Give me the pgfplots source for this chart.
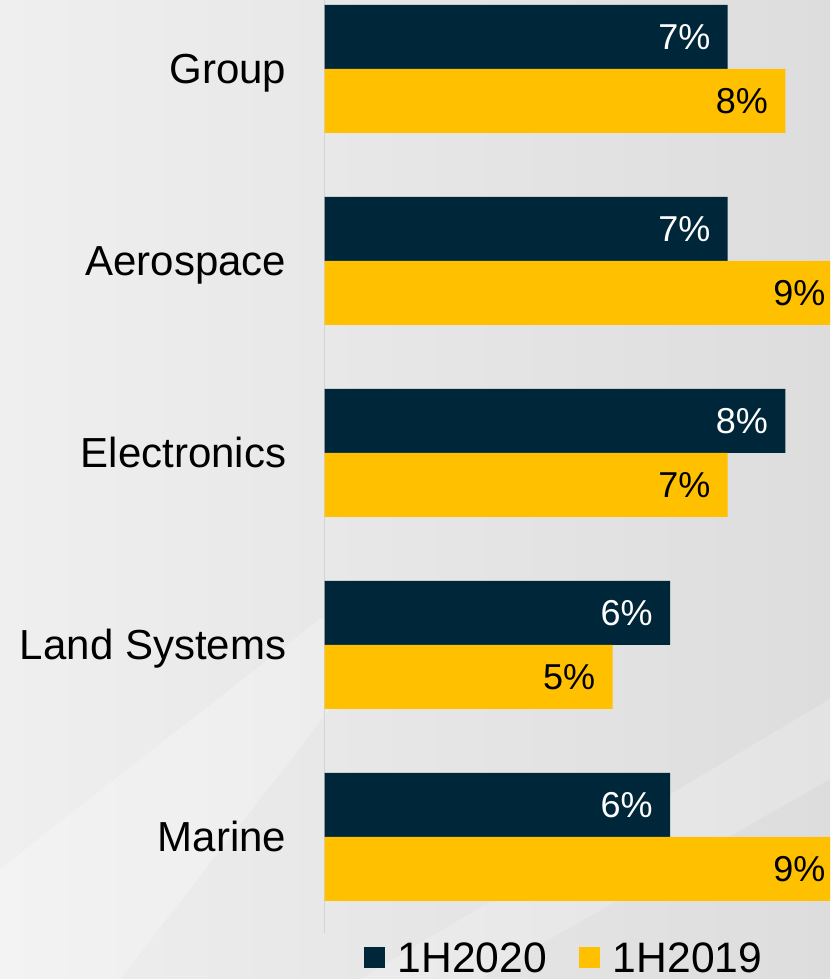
\documentclass[border=0pt]{standalone}
\usepackage{pgfplots}
\pgfplotsset{compat=1.18}
\usepackage{fontspec}
\setmainfont{Liberation Sans}
\definecolor{navy}{HTML}{002639}
\definecolor{gold}{HTML}{FFC000}
\definecolor{axisgray}{HTML}{D4D4D4}
\definecolor{bgleft}{HTML}{EFEFEF}
\definecolor{bgright}{HTML}{DDDDDD}
\begin{document}
\begin{tikzpicture}
\path[use as bounding box] (0,0) rectangle (415pt,489.5pt);
\clip (0,0) rectangle (415pt,489.5pt);
\shade[left color=bgleft, right color=bgright] (0,0) rectangle (415pt,489.5pt);
\fill[white, opacity=0.25] (0,0) -- (0,55pt) -- (160pt,180pt) -- (200pt,180pt) -- (60pt,0) -- cycle;
\fill[white, opacity=0.2] (180pt,0) -- (415pt,140pt) -- (415pt,100pt) -- (240pt,0) -- cycle;
\begin{axis}[
  at={(162.25pt,23pt)}, anchor=south west,
  x=28.8pt, y=96pt,
  xmin=0, xmax=10, ymin=-0.5, ymax=4.4,
  xbar, bar width=32pt,
  axis y line*=left, axis x line=none,
  xtick=\empty,
  y axis line style={draw=axisgray, line width=0.75pt},
  ytick={0,1,2,3,4},
  yticklabels={Marine,Land Systems,Electronics,Aerospace,Group},
  major tick length=0pt,
  yticklabel style={font=\fontsize{21}{25}\selectfont, inner sep=0pt, xshift=-19pt,
    anchor=east, text height=15pt, text depth=0pt},
  point meta=x,
  nodes near coords={\pgfmathprintnumber{\pgfplotspointmeta}\%},
  /pgf/number format/assume math mode=true,
  legend columns=2,
  legend style={at={(0.4175,-0.0275)}, anchor=center, draw=none, fill=none,
    font=\fontsize{21.3}{25}\selectfont,
    /tikz/every even column/.append style={column sep=14pt}},
  legend image code/.code={\fill[#1] (0pt,-4.5pt) rectangle (10.5pt,6pt); \path (15pt,0pt);},
]
\addplot[fill=navy, draw=none, bar shift=16pt,
  every node near coord/.append style={text=white, anchor=east, xshift=-8.5pt, inner sep=0pt,
    text height=12.9pt, text depth=0pt, font=\fontsize{18}{21}\selectfont}]
  coordinates {(6,0) (6,1) (8,2) (7,3) (7,4)};
\addplot[fill=gold, draw=none, bar shift=-16pt,
  every node near coord/.append style={text=black, anchor=east, xshift=-8.5pt, inner sep=0pt,
    text height=12.9pt, text depth=0pt, font=\fontsize{18}{21}\selectfont}]
  coordinates {(9,0) (5,1) (7,2) (9,3) (8,4)};
\legend{1H2020,1H2019}
\end{axis}
\end{tikzpicture}
\end{document}
